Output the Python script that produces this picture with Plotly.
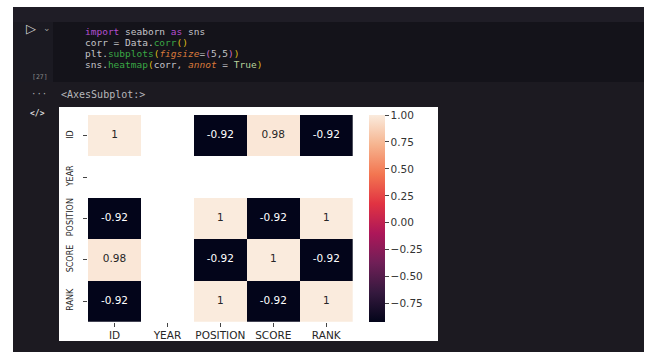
import plotly.graph_objects as go

W, H = 649, 352

# Correlation matrix (YEAR is constant, so its correlations are undefined)
labels = ["ID", "YEAR", "POSITION", "SCORE", "RANK"]
corr = [
    [1.00, None, -0.92, 0.98, -0.92],
    [None, None, None, None, None],
    [-0.92, None, 1.00, -0.92, 1.00],
    [0.98, None, -0.92, 1.00, -0.92],
    [-0.92, None, 1.00, -0.92, 1.00],
]
cbar_ticks = [-0.75, -0.50, -0.25, 0.00, 0.25, 0.50, 0.75, 1.00]

# seaborn "rocket" colormap
rocket = [
    [0.0, "#03051a"], [1 / 7, "#35193e"], [2 / 7, "#701f57"], [3 / 7, "#ad1759"],
    [4 / 7, "#e13342"], [5 / 7, "#f37651"], [6 / 7, "#f6b48f"], [1.0, "#faebdd"],
]


def px(x):
    return x / W


def py(y):
    return 1 - y / H


vals = [v for row in corr for v in row if v is not None]
zmin, zmax = min(vals), max(vals)

fig = go.Figure()
fig.add_trace(go.Heatmap(
    z=corr, x=labels, y=labels, colorscale=rocket, zmin=zmin, zmax=zmax,
    hoverongaps=False,
    colorbar=dict(
        thickness=16, thicknessmode="pixels", len=206.7, lenmode="pixels",
        x=px(369), xanchor="left", y=py(115), yanchor="top", xpad=0, ypad=0,
        outlinewidth=0, ticks="outside", ticklen=4, tickwidth=1, tickcolor="#444",
        tickvals=cbar_ticks, ticktext=[f"{t:.2f}".replace("-", "\u2212") for t in cbar_ticks],
        tickfont=dict(family="DejaVu Sans", size=10.5, color="#333"),
    ),
))

# cell annotations, coloured for contrast against the cell
tx, ty, tt, tc = [], [], [], []
for i, row in enumerate(corr):
    for j, v in enumerate(row):
        if v is None:
            continue
        tx.append(labels[j])
        ty.append(labels[i])
        tt.append(f"{v:.2g}")
        tc.append("#ffffff" if (v - zmin) / (zmax - zmin) < 0.6 else "#262626")
fig.add_trace(go.Scatter(
    x=tx, y=ty, text=tt, mode="text", hoverinfo="skip", showlegend=False,
    textfont=dict(family="DejaVu Sans", size=10.5, color=tc),
))

shapes = []


def rect(x0, y0, x1, y1, color, layer="below"):
    shapes.append(dict(type="rect", xref="paper", yref="paper",
                       x0=px(x0), x1=px(x1), y0=py(y1), y1=py(y0),
                       fillcolor=color, line=dict(width=0), layer=layer))


# notebook frame
rect(13, 7, 644, 22, "#1f1d26")
rect(17, 22, 53, 82, "#1b1a22")
rect(53, 22, 644, 82, "#14131a")
rect(59, 107, 438, 341, "#ffffff")
# white page margins
rect(0, 0, W, 7, "#ffffff")
rect(0, 0, 13, H, "#ffffff")
rect(644, 0, W, H, "#ffffff")

LIGHT = "#c4c4c8"
PURPLE = "#b44fd0"
GREEN = "#3aa845"
YELLOW = "#dcbc18"
ORANGE = "#d8793a"
PAREN2 = "#c86cc0"
TRUE = "#b9d49a"

code_lines = [
    [("import", PURPLE, False), (" seaborn ", LIGHT, False), ("as", PURPLE, False), (" sns", LIGHT, False)],
    [("corr = Data.", LIGHT, False), ("corr", GREEN, False), ("()", YELLOW, False)],
    [("plt.", LIGHT, False), ("subplots", GREEN, False), ("(", YELLOW, False), ("figsize", ORANGE, True),
     ("=", LIGHT, False), ("(", PAREN2, False), ("5,5", LIGHT, False), (")", PAREN2, False), (")", YELLOW, False)],
    [("sns.", LIGHT, False), ("heatmap", GREEN, False), ("(", YELLOW, False), ("corr, ", LIGHT, False),
     ("annot", ORANGE, True), (" = ", LIGHT, False), ("True", TRUE, False), (")", YELLOW, False)],
]

annotations = []


def note(x, y, text, size=9.5, color=LIGHT, family="DejaVu Sans Mono", anchor="left"):
    annotations.append(dict(xref="paper", yref="paper", x=px(x), y=py(y), text=text,
                            showarrow=False, xanchor=anchor, yanchor="middle",
                            font=dict(family=family, size=size, color=color)))


for k, line in enumerate(code_lines):
    html = ""
    for tok, col, it in line:
        t = tok.replace(" ", "\u00a0")
        span = f"<span style='color:{col}'>{t}</span>"
        html += f"<i>{span}</i>" if it else span
    note(83, 31 + k * 11.3, html)

note(24, 28, "\u25b7", size=13, color="#d0d0d0", family="DejaVu Sans")
note(41, 28, "\u2304", size=9, color="#9a9a9a", family="DejaVu Sans")
note(30, 77, "[27]", size=6.5, color="#8a8a8a")
note(29, 94, "\u00b7\u00b7\u00b7", size=9, color="#aaaaaa")
note(59, 94, "&lt;AxesSubplot:&gt;", size=10, color="#b8b8bc")
note(28, 113, "<b>&lt;/&gt;</b>", size=8, color="#dddddd")

axis_common = dict(showgrid=False, zeroline=False, showline=False, ticks="outside",
                   ticklen=4, tickwidth=1, tickcolor="#444")
fig.update_layout(
    width=W, height=H, margin=dict(l=0, r=0, t=0, b=0),
    paper_bgcolor="#1c1a21", plot_bgcolor="#ffffff",
    shapes=shapes, annotations=annotations, showlegend=False,
    xaxis=dict(domain=[px(88), px(352.7)], tickfont=dict(family="DejaVu Sans", size=10.5, color="#262626"),
               tickangle=0, **axis_common),
    yaxis=dict(domain=[py(321.7), py(115)], autorange="reversed", tickangle=-90,
               ticklabelstandoff=7,
               tickfont=dict(family="DejaVu Sans", size=8, color="#262626"), **axis_common),
)

fig.write_html("out.html")
